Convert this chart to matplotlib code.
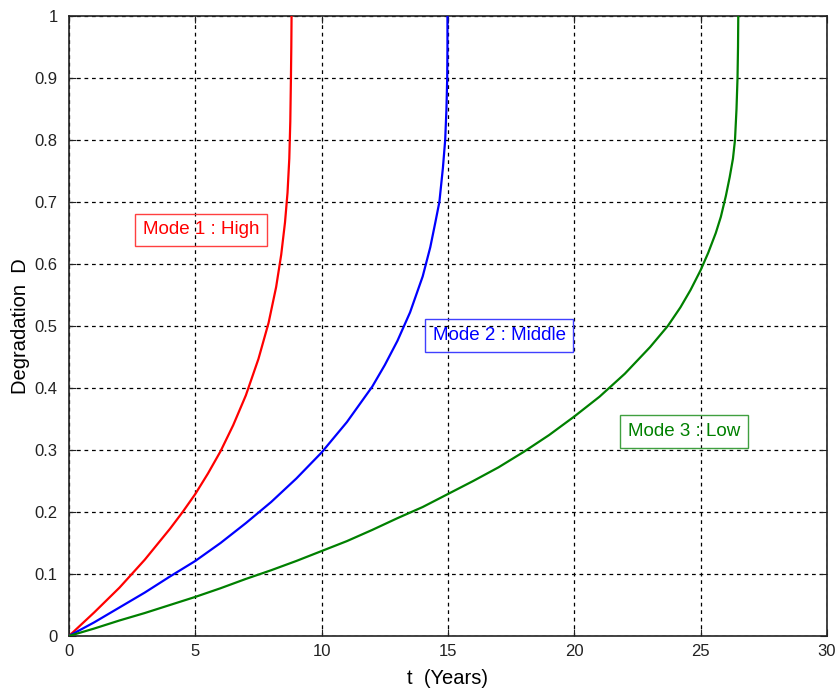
import matplotlib
matplotlib.use("Agg")
import matplotlib.pyplot as plt

plt.rcParams["font.family"] = ["Liberation Sans", "DejaVu Sans"]

# values (t in years, D degradation)
red_t = [0, 1, 2, 3, 4, 4.5, 5, 5.5, 6, 6.5, 7, 7.5, 7.9, 8.2, 8.4, 8.55, 8.65,
         8.72, 8.76, 8.785, 8.80, 8.81]
red_d = [0, 0.038, 0.078, 0.123, 0.173, 0.20, 0.229, 0.262, 0.298, 0.34, 0.388, 0.447,
         0.505, 0.563, 0.615, 0.667, 0.715, 0.77, 0.83, 0.90, 0.95, 1.0]

blue_t = [0, 1, 2, 3, 4, 5, 6, 7, 8, 9, 10, 11, 12, 12.5, 13, 13.5, 14, 14.3, 14.5,
          14.66, 14.8, 14.89, 14.94, 14.97, 14.98, 14.98]
blue_d = [0, 0.022, 0.046, 0.07, 0.096, 0.121, 0.15, 0.182, 0.216, 0.254, 0.296, 0.345,
          0.402, 0.437, 0.476, 0.522, 0.58, 0.627, 0.667, 0.70, 0.755, 0.80, 0.85, 0.90,
          0.95, 1.0]

green_t = [0, 1, 2, 3, 4, 5, 6, 7, 8, 9, 10, 11, 12, 13, 14, 15, 16, 17, 18, 19, 20,
           21, 22, 23, 23.7, 24.2, 24.6, 25, 25.3, 25.6, 25.8, 26, 26.15, 26.28, 26.36,
           26.42, 26.46, 26.48, 26.49]
green_d = [0, 0.012, 0.025, 0.037, 0.05, 0.063, 0.077, 0.092, 0.106, 0.121, 0.137, 0.153,
           0.171, 0.19, 0.208, 0.229, 0.25, 0.272, 0.297, 0.324, 0.354, 0.386, 0.423,
           0.466, 0.50, 0.53, 0.558, 0.59, 0.618, 0.65, 0.676, 0.71, 0.74, 0.77, 0.80,
           0.85, 0.90, 0.95, 1.0]

labels = ["Mode 1 : High", "Mode 2 : Middle", "Mode 3 : Low"]
label_pos = [(5.22, 0.655), (17.02, 0.485), (24.35, 0.330)]
colors = ["#ff0000", "#0000ff", "#008000"]
box_colors = ["#ff4040", "#4040ff", "#40a040"]

fig = plt.figure(figsize=(8.37, 6.93), dpi=100)
ax = fig.add_axes([0.0824, 0.0823, 0.9056, 0.8946])

for t, d, c in zip([red_t, blue_t, green_t], [red_d, blue_d, green_d], colors):
    ax.plot(t, d, color=c, linewidth=1.6, zorder=3)

for txt, (x, y), c, bc in zip(labels, label_pos, colors, box_colors):
    ax.text(x, y, txt, color=c, fontsize=13.5, ha="center", va="center", zorder=4,
            bbox=dict(boxstyle="square,pad=0.42", facecolor="none", edgecolor=bc, linewidth=1))

ax.set_xlim(0, 30)
ax.set_ylim(0, 1)
ax.set_xticks([0, 5, 10, 15, 20, 25, 30])
ax.set_yticks([i / 10 for i in range(11)])
ax.set_yticklabels(["0", "0.1", "0.2", "0.3", "0.4", "0.5", "0.6", "0.7", "0.8", "0.9", "1"])
ax.tick_params(direction="in", length=5, top=True, right=True, labelsize=12,
               colors="#222222", labelcolor="#222222")
ax.tick_params(axis="y", pad=8)
ax.tick_params(axis="x", pad=6)
ax.grid(True, color="black", linestyle=(0, (3, 3)), linewidth=0.9)
ax.set_axisbelow(True)
for s in ax.spines.values():
    s.set_color("#222222")
    s.set_linewidth(1.2)

ax.set_xlabel("t  (Years)", fontsize=14.5)
ax.set_ylabel("Degradation  D", fontsize=14.5)
ax.xaxis.set_label_coords(0.5, -0.068)
ax.yaxis.set_label_coords(-0.064, 0.5)
ax.xaxis.label.set_va("center")
ax.yaxis.label.set_va("center")

fig.savefig("out.png", dpi=100)
